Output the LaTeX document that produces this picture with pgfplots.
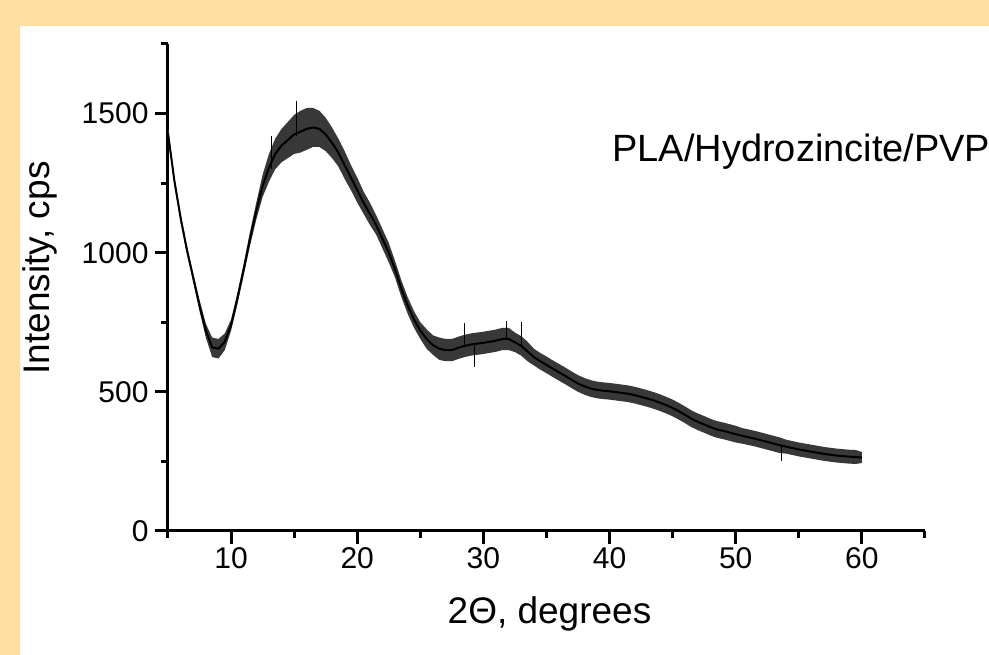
\documentclass[border=0pt]{standalone}
\usepackage{fontspec}
\setmainfont{Liberation Sans}
\usepackage{pgfplots}
\usepackage{pgfplotstable}
\pgfplotsset{compat=1.18}
\definecolor{frame}{HTML}{FDDFA3}

% centre of the noisy trace (y) and half width of the noise band (h)
\pgfplotstableread{
x y h
5.0 1430 20
5.5 1260 15
6.0 1125 15
6.5 1010 15
7.0 910 15
7.5 810 20
8.0 720 25
8.5 660 35
9.0 655 35
9.5 680 30
10.0 740 20
10.5 835 20
11.0 940 20
11.5 1050 25
12.0 1150 30
12.5 1240 40
13.0 1305 50
13.5 1355 55
14.0 1385 60
14.5 1405 65
15.0 1425 70
15.5 1435 75
16.0 1445 75
16.5 1450 70
17.0 1445 65
17.5 1425 60
18.0 1395 55
18.5 1360 50
19.0 1315 50
19.5 1270 45
20.0 1225 45
20.5 1180 40
21.0 1140 40
21.5 1100 35
22.0 1050 35
22.5 1000 35
23.0 940 30
23.5 870 30
24.0 810 30
24.5 760 30
25.0 720 30
25.5 690 35
26.0 668 35
26.5 655 40
27.0 650 40
27.5 650 40
28.0 658 40
28.5 665 40
29.0 670 40
29.5 673 40
30.0 676 40
30.5 680 40
31.0 684 40
31.5 690 40
32.0 690 40
32.5 678 35
33.0 665 35
33.5 645 35
34.0 625 30
34.5 610 30
35.0 597 30
35.5 583 30
36.0 570 30
36.5 557 30
37.0 543 30
37.5 530 30
38.0 520 30
38.5 512 30
39.0 507 30
39.5 504 30
40.0 502 30
40.5 499 30
41.0 496 30
41.5 493 30
42.0 488 30
42.5 482 30
43.0 476 30
43.5 469 30
44.0 461 30
44.5 452 30
45.0 442 30
45.5 430 30
46.0 417 30
46.5 403 30
47.0 392 30
47.5 383 30
48.0 373 30
48.5 365 30
49.0 360 30
49.5 354 30
50.0 348 30
50.5 342 28
51.0 337 28
51.5 332 28
52.0 326 28
52.5 320 28
53.0 314 28
53.5 308 28
54.0 303 25
54.5 298 25
55.0 293 25
55.5 289 25
56.0 285 25
56.5 281 25
57.0 277 25
57.5 274 25
58.0 271 25
58.5 269 25
59.0 267 25
59.5 266 25
60.0 264 20
}\xrd

\begin{document}
\begin{tikzpicture}
\fill[frame] (0,0) rectangle (989pt,655pt);
\fill[white] (20pt,0) rectangle (989pt,629pt);
\useasboundingbox (0,0) rectangle (989pt,655pt);
\begin{axis}[
  at={(168pt,124pt)}, anchor=south west,
  scale only axis, width=757pt, height=487pt,
  xmin=5, xmax=65, ymin=0, ymax=1750,
  axis lines=left,
  axis line style={-, line width=3pt},
  xtick={10,20,...,60}, ytick={0,500,1000,1500},
  minor xtick={5,15,...,65}, minor ytick={250,750,1250,1750},
  tick align=outside,
  major tick length=13pt, minor tick length=7pt,
  tick style={black, line width=3pt},
  ticklabel style={font=\fontsize{30}{34}\selectfont},
  yticklabel style={xshift=-3pt},
  /pgf/number format/assume math mode=true,
  /pgf/number format/1000 sep={},
  xlabel={2Θ, degrees}, ylabel={Intensity, cps},
  label style={font=\fontsize{37}{42}\selectfont},
  xlabel style={at={(axis description cs:0.504,-0.189)}, anchor=base},
  ylabel style={at={(axis description cs:-0.156,0.54)}, anchor=base},
  clip=false,
]
% noise band: lower edge, then its width stacked on top
\addplot[draw=none, stack plots=y] table[x=x, y expr=\thisrow{y}-\thisrow{h}] {\xrd};
\addplot[draw=none, fill=black!78, stack plots=y] table[x=x, y expr=2*\thisrow{h}] {\xrd} \closedcycle;
\addplot[black, line width=2pt, line join=round, stack plots=false] table[x=x, y=y] {\xrd};
% single spikes above and below the band
\addplot[black, line width=1.2pt, stack plots=false] coordinates {(15.2,1420) (15.2,1545)};
\addplot[black, line width=1.2pt, stack plots=false] coordinates {(13.2,1300) (13.2,1420)};
\addplot[black, line width=1.2pt, stack plots=false] coordinates {(28.5,660) (28.5,748)};
\addplot[black, line width=1.2pt, stack plots=false] coordinates {(29.3,670) (29.3,590)};
\addplot[black, line width=1.2pt, stack plots=false] coordinates {(31.8,690) (31.8,753)};
\addplot[black, line width=1.2pt, stack plots=false] coordinates {(33.0,665) (33.0,750)};
\addplot[black, line width=1.2pt, stack plots=false] coordinates {(53.6,305) (53.6,250)};
\node[anchor=base west, inner sep=0pt, font=\fontsize{38}{43}\selectfont]
  at (axis cs:40.2,1327) {PLA/Hydrozincite/PVP};
\end{axis}
\end{tikzpicture}
\end{document}
